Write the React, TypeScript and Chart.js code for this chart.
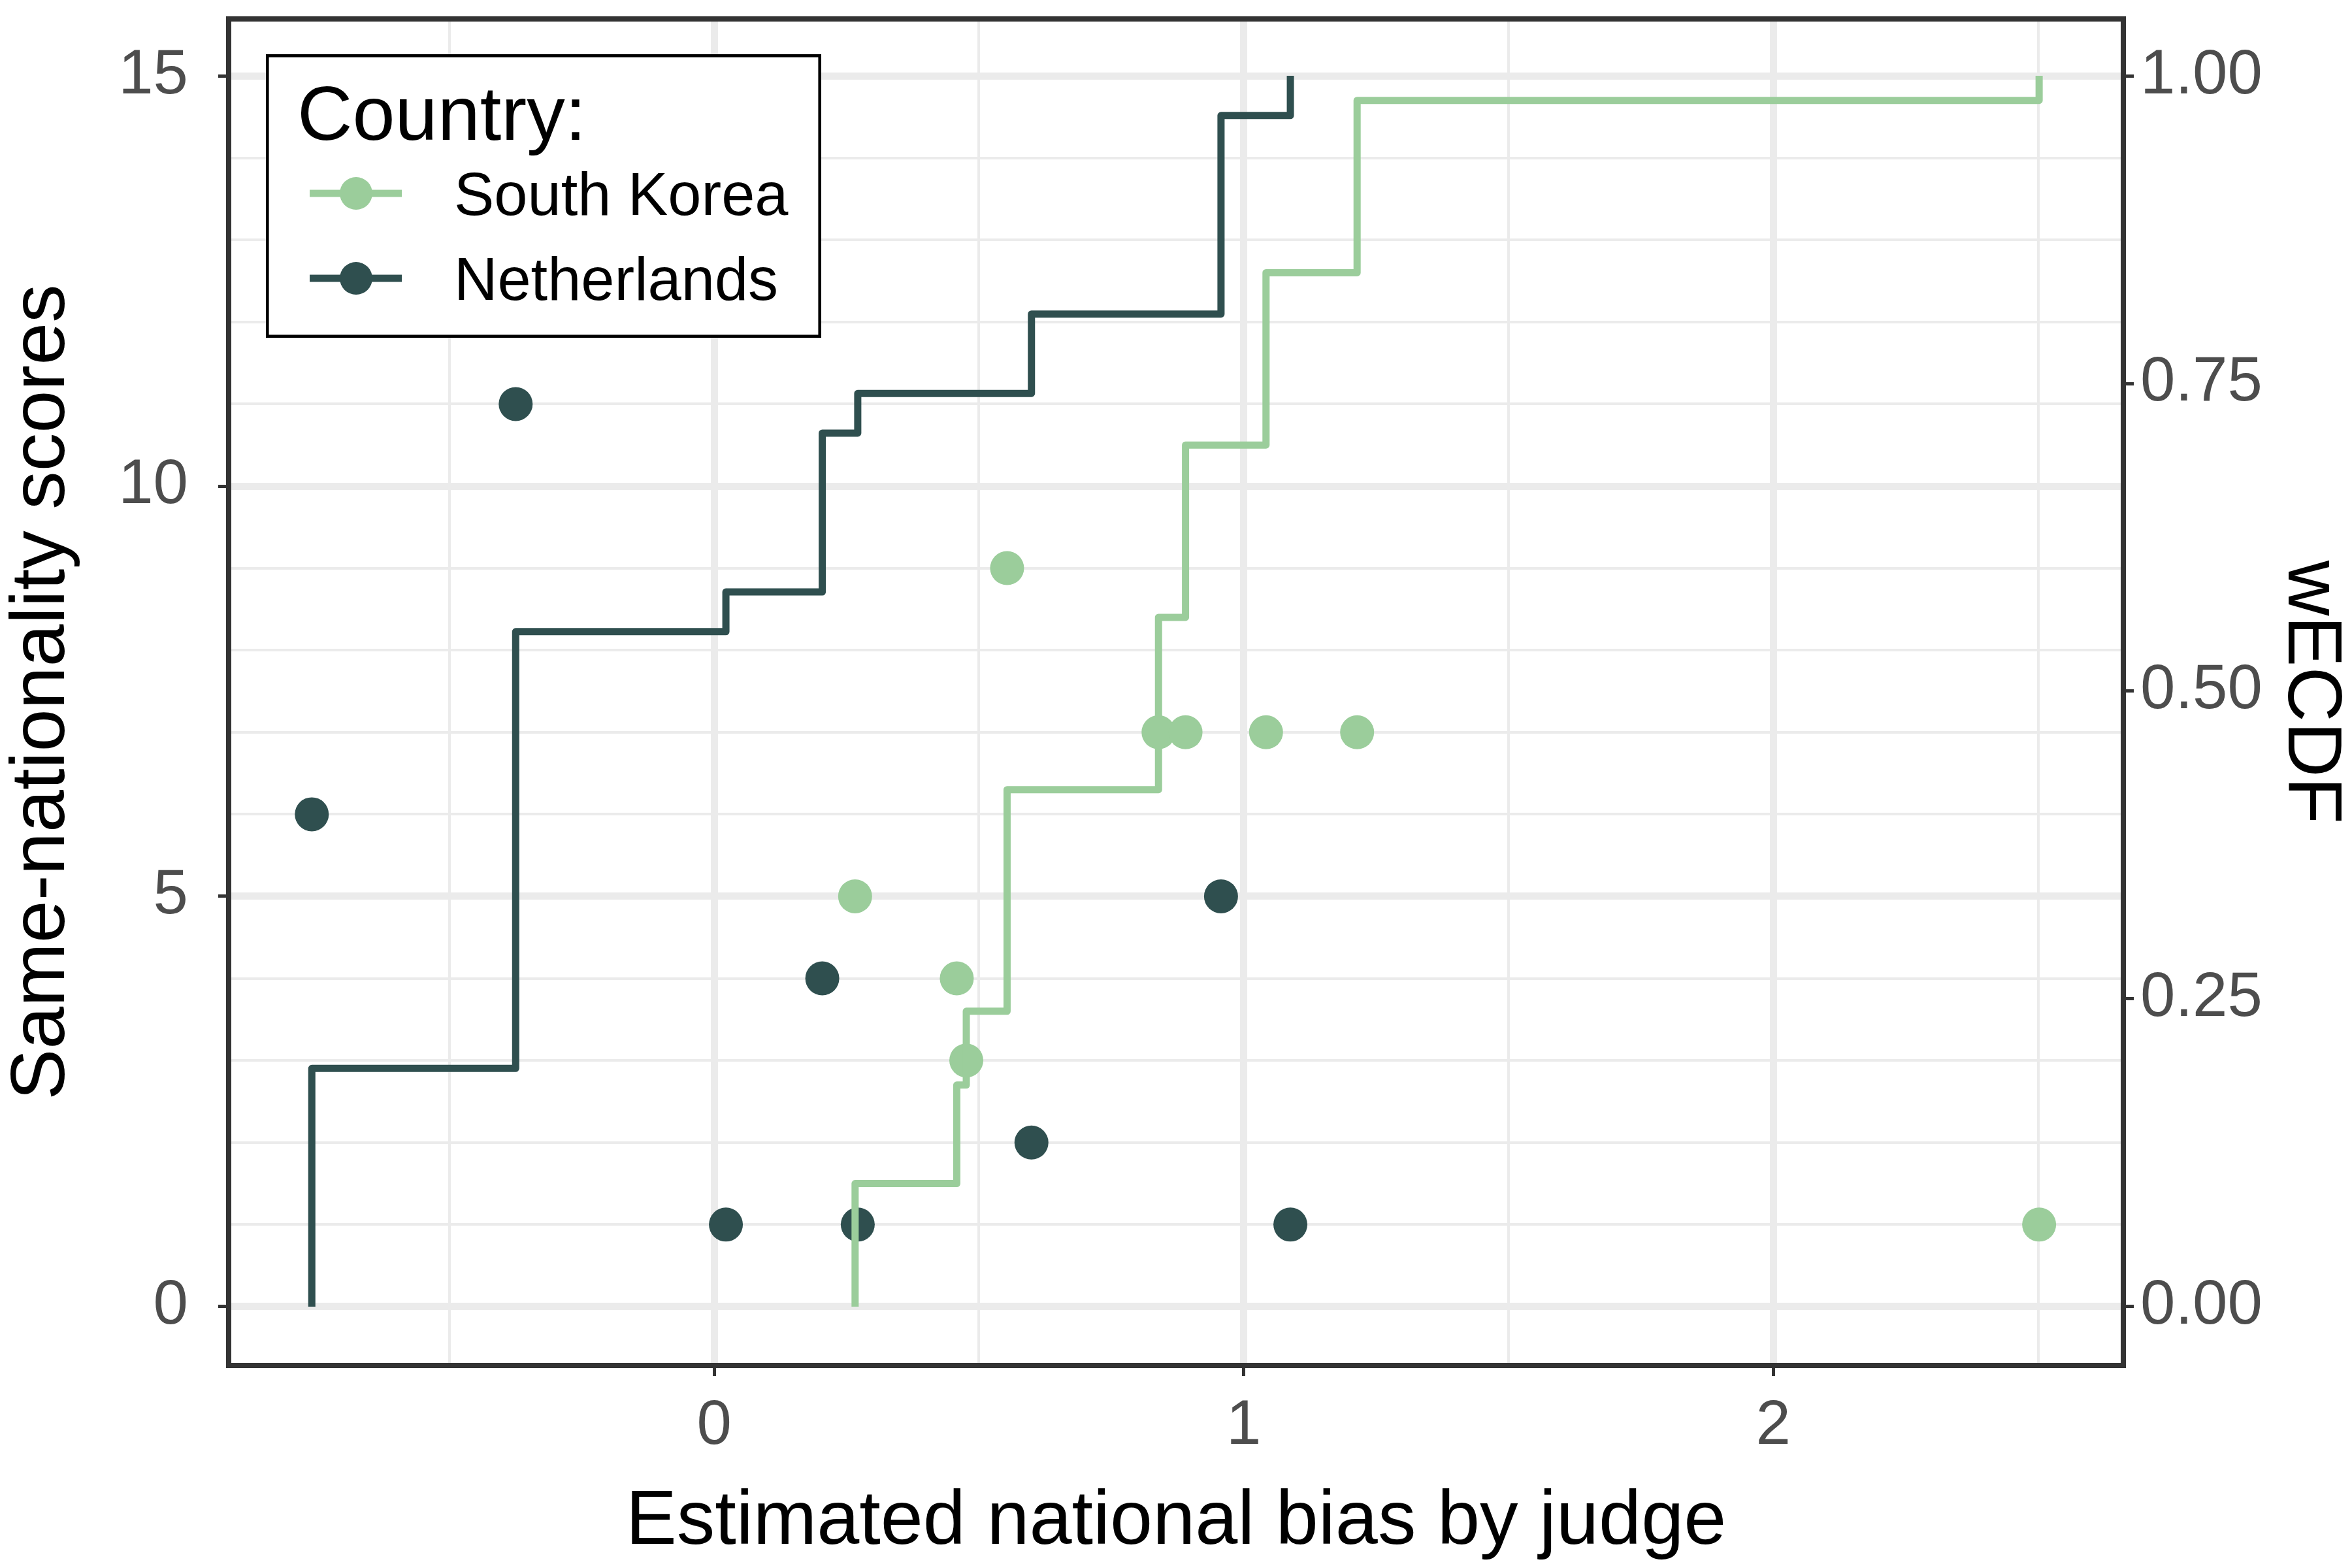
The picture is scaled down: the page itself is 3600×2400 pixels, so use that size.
import { useEffect, useRef } from "react";
import { Chart, registerables, type Plugin } from "chart.js";

Chart.register(...registerables);

const FONT = "'Liberation Sans', Arial, Helvetica, sans-serif";

const countries = ["South Korea", "Netherlands"];
const countryColors = ["#9BCD9B", "#2F4F4F"];

// estimated national bias (x) and same-nationality scores (y) per judge
const koreaBias = [0.266, 0.458, 0.476, 0.553, 0.839, 0.89, 1.042, 1.214, 2.502];
const koreaScores = [5, 4, 3, 9, 7, 7, 7, 7, 1];
const dutchBias = [-0.76, -0.375, 0.022, 0.204, 0.271, 0.599, 0.957, 1.088];
const dutchScores = [6, 11, 1, 4, 1, 2, 5, 1];

const xTicks = [0, 1, 2];
const xMinor = [-0.5, 0.5, 1.5, 2.5];
const yTicks = [0, 5, 10, 15];
const yMinor = [1, 2, 3, 4, 6, 7, 8, 9, 11, 12, 13, 14];
const ecdfTicks = [0, 0.25, 0.5, 0.75, 1];

// weighted ECDF, weights = scores
function wecdf(xs: number[], ws: number[]) {
  const order = xs.map((_, i) => i).sort((a, b) => xs[a] - xs[b]);
  const total = ws.reduce((s, w) => s + w, 0);
  let cum = 0;
  const pts = [{ x: xs[order[0]], y: 0 }];
  for (const i of order) {
    cum += ws[i];
    pts.push({ x: xs[i], y: cum / total });
  }
  return pts;
}

const frameAndLegend: Plugin = {
  id: "frameAndLegend",
  afterDatasetsDraw(chart) {
    const { ctx, chartArea: a } = chart;
    ctx.save();
    ctx.strokeStyle = "#333333";
    ctx.lineWidth = 8;
    ctx.strokeRect(a.left, a.top, a.right - a.left, a.bottom - a.top);
    ctx.restore();
  },
  afterDraw(chart) {
    const { ctx } = chart;
    ctx.save();
    ctx.fillStyle = "#ffffff";
    ctx.fillRect(409, 85, 846, 430);
    ctx.strokeStyle = "#000000";
    ctx.lineWidth = 4.6;
    ctx.strokeRect(409.3, 85.3, 845.4, 429.4);

    ctx.fillStyle = "#000000";
    ctx.textBaseline = "alphabetic";
    ctx.textAlign = "left";
    ctx.font = `117px ${FONT}`;
    ctx.fillText("Country:", 455, 214);

    const rows = [296, 426];
    const baselines = [329, 459];
    ctx.font = `92px ${FONT}`;
    countries.forEach((name, i) => {
      const y = rows[i];
      ctx.strokeStyle = countryColors[i];
      ctx.lineWidth = 11;
      ctx.lineCap = "butt";
      ctx.beginPath();
      ctx.moveTo(474, y);
      ctx.lineTo(615, y);
      ctx.stroke();
      ctx.fillStyle = countryColors[i];
      ctx.beginPath();
      ctx.arc(545, y, 25, 0, Math.PI * 2);
      ctx.fill();
      ctx.fillStyle = "#000000";
      ctx.fillText(name, 695, baselines[i]);
    });
    ctx.restore();
  },
};

export default function App() {
  const canvasRef = useRef<HTMLCanvasElement | null>(null);

  useEffect(() => {
    if (!canvasRef.current) return;

    const tickFont = { family: FONT, size: 96, lineHeight: 1.2 };
    const titleFont = { family: FONT, size: 117, lineHeight: 1.1 };
    const minorColor = "rgba(0,0,0,0)";

    const chart = new Chart(canvasRef.current, {
      type: "scatter",
      data: {
        datasets: [
          {
            type: "line",
            label: countries[0] + " ECDF",
            data: wecdf(koreaBias, koreaScores),
            yAxisID: "y2",
            borderColor: countryColors[0],
            borderWidth: 11,
            borderJoinStyle: "round",
            borderCapStyle: "butt",
            stepped: "before",
            pointRadius: 0,
            fill: false,
            order: 0,
          },
          {
            type: "line",
            label: countries[1] + " ECDF",
            data: wecdf(dutchBias, dutchScores),
            yAxisID: "y2",
            borderColor: countryColors[1],
            borderWidth: 11,
            borderJoinStyle: "round",
            borderCapStyle: "butt",
            stepped: "before",
            pointRadius: 0,
            fill: false,
            order: 0,
          },
          {
            label: countries[0],
            data: koreaBias.map((x, i) => ({ x, y: koreaScores[i] })),
            yAxisID: "y",
            backgroundColor: countryColors[0],
            borderWidth: 0,
            pointRadius: 26,
            order: 1,
          },
          {
            label: countries[1],
            data: dutchBias.map((x, i) => ({ x, y: dutchScores[i] })),
            yAxisID: "y",
            backgroundColor: countryColors[1],
            borderWidth: 0,
            pointRadius: 26,
            order: 1,
          },
        ],
      },
      options: {
        responsive: false,
        animation: false,
        devicePixelRatio: 1,
        layout: { padding: { top: 29, left: 0, right: 0, bottom: 0 } },
        plugins: {
          legend: { display: false },
          tooltip: { enabled: false },
        },
        scales: {
          x: {
            type: "linear",
            position: "bottom",
            min: -0.917,
            max: 2.661,
            afterBuildTicks: (s) => {
              s.ticks = [...xMinor, ...xTicks].sort((a, b) => a - b).map((value) => ({ value }));
            },
            afterFit: (s) => {
              s.height = 310;
              s.paddingLeft = 0;
              s.paddingRight = 0;
            },
            ticks: {
              autoSkip: false,
              maxRotation: 0,
              padding: 20,
              color: "#4D4D4D",
              font: tickFont,
              callback: (v) => (xTicks.includes(Number(v)) ? String(v) : ""),
            },
            grid: {
              color: "#EBEBEB",
              lineWidth: (c) => (xTicks.includes(c.tick.value) ? 11 : 4),
              tickColor: (c) => (xTicks.includes(c.tick.value) ? "#333333" : minorColor),
              tickLength: 16,
              tickWidth: 5,
            },
            border: { display: false },
            title: {
              display: true,
              text: "Estimated national bias by judge",
              color: "#000000",
              font: titleFont,
              padding: { top: 0, bottom: 5 },
            },
          },
          y: {
            type: "linear",
            position: "left",
            min: -0.717,
            max: 15.693,
            afterBuildTicks: (s) => {
              s.ticks = [...yMinor, ...yTicks].sort((a, b) => a - b).map((value) => ({ value }));
            },
            afterFit: (s) => {
              s.width = 350;
              s.paddingTop = 0;
              s.paddingBottom = 0;
            },
            ticks: {
              autoSkip: false,
              padding: 46,
              color: "#4D4D4D",
              font: tickFont,
              callback: (v) => (yTicks.includes(Number(v)) ? String(v) : ""),
            },
            grid: {
              color: "#EBEBEB",
              lineWidth: (c) => (yTicks.includes(c.tick.value) ? 11 : 4),
              tickColor: (c) => (yTicks.includes(c.tick.value) ? "#333333" : minorColor),
              tickLength: 16,
              tickWidth: 5,
            },
            border: { display: false },
            title: {
              display: true,
              text: "Same-nationality scores",
              color: "#000000",
              font: titleFont,
              padding: { top: 1, bottom: 0 },
            },
          },
          y2: {
            type: "linear",
            position: "right",
            min: -0.717 / 15,
            max: 15.693 / 15,
            afterBuildTicks: (s) => {
              s.ticks = ecdfTicks.map((value) => ({ value }));
            },
            afterFit: (s) => {
              s.width = 350;
              s.paddingTop = 0;
              s.paddingBottom = 0;
            },
            ticks: {
              autoSkip: false,
              padding: 10,
              color: "#4D4D4D",
              font: tickFont,
              callback: (v) => Number(v).toFixed(2),
            },
            grid: {
              drawOnChartArea: false,
              color: "#333333",
              tickColor: "#333333",
              tickLength: 16,
              tickWidth: 5,
            },
            border: { display: false },
            title: {
              display: true,
              text: "wECDF",
              color: "#000000",
              font: titleFont,
              padding: { top: 0, bottom: 0 },
            },
          },
        },
      },
      plugins: [frameAndLegend],
    });

    return () => {
      chart.destroy();
    };
  }, []);

  return (
    <div style={{ position: "fixed", left: 0, top: 0, width: 3600, height: 2400, background: "#ffffff" }}>
      <canvas ref={canvasRef} width={3600} height={2400} style={{ width: 3600, height: 2400 }} />
    </div>
  );
}
